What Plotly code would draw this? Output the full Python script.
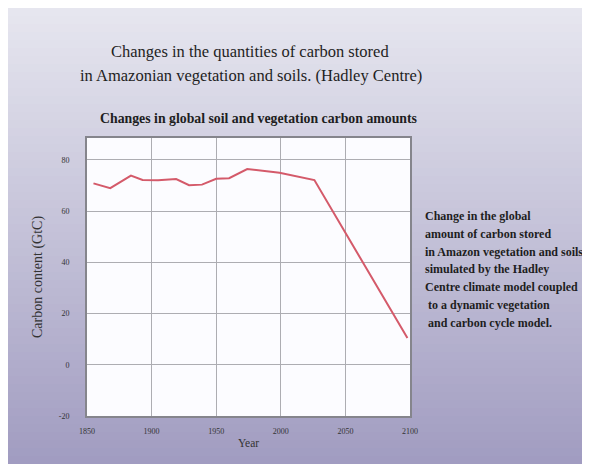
import plotly.graph_objects as go

# Data
years = [1855, 1868, 1884, 1893, 1905, 1919, 1929, 1939, 1950, 1960, 1974, 1999, 2026, 2098]
carbon = [70.8, 68.9, 73.8, 72.1, 72.0, 72.5, 70.1, 70.3, 72.6, 72.8, 76.4, 74.9, 72.1, 10.4]

x_ticks = [1850, 1900, 1950, 2000, 2050, 2100]
y_ticks = [-20, 0, 20, 40, 60, 80]

title_lines = ["Changes in the quantities of carbon stored",
               "in Amazonian vegetation and soils. (Hadley Centre)"]
subtitle = "Changes in global soil and vegetation carbon amounts"
note_lines = ["Change in the global",
              "amount of carbon stored",
              "in Amazon vegetation and soils",
              "simulated by the Hadley",
              "Centre climate model coupled",
              " to a dynamic vegetation",
              " and carbon cycle model."]

W, H = 600, 464
OFF = 8  # page offset of the figure inside the window
L, R, T, B = 87 - OFF, 410 - OFF, 138 - OFF, 416 - OFF
FONT = "Liberation Serif"


def px(x):
    return (x - OFF - L) / (R - L)


def py(y):
    return (B - (y - OFF)) / (B - T)


fig = go.Figure()
fig.add_trace(go.Scatter(x=years, y=carbon, mode="lines",
                         line=dict(color="#d45a6a", width=2),
                         hoverinfo="skip", showlegend=False))

shapes = []
# vertical background gradient
n = 58
top_c = (230, 230, 239)
bot_c = (160, 155, 192)
for i in range(n):
    t = i / (n - 1)
    c = tuple(int(round(top_c[k] + (bot_c[k] - top_c[k]) * t)) for k in range(3))
    y0 = OFF + H * i / n
    y1 = OFF + H * (i + 1) / n + 0.6
    shapes.append(dict(type="rect", xref="paper", yref="paper", layer="below",
                       x0=px(0), x1=px(W + OFF), y0=py(y1), y1=py(y0),
                       fillcolor="rgb(%d,%d,%d)" % c, line=dict(width=0)))
# plot area
shapes.append(dict(type="rect", xref="paper", yref="paper", layer="below",
                   x0=0, x1=1, y0=0, y1=1,
                   fillcolor="#fcfcff", line=dict(width=0)))

annotations = []


def add_text(text, x, y, size, xanchor="center", bold=False):
    annotations.append(dict(text=("<b>%s</b>" % text) if bold else text,
                            xref="paper", yref="paper",
                            x=px(x), y=py(y), xanchor=xanchor, yanchor="middle",
                            showarrow=False,
                            font=dict(family=FONT, size=size, color="#1e1e1e")))


add_text(title_lines[0], 250, 52, 16.5)
add_text(title_lines[1], 251, 75, 16.5)
add_text(subtitle, 259, 118, 13.8, bold=True)
note_y = [216, 234, 252, 269, 287, 305, 323]
for line, yy in zip(note_lines, note_y):
    add_text(line.replace(" ", "&nbsp;", 1) if line.startswith(" ") else line,
             423, yy, 12, xanchor="left", bold=True)

fig.update_layout(
    width=W, height=H,
    margin=dict(l=L, r=W - R, t=T, b=H - B, pad=0),
    paper_bgcolor="rgb(200,198,220)",
    plot_bgcolor="rgba(0,0,0,0)",
    shapes=shapes,
    annotations=annotations,
    showlegend=False,
    xaxis=dict(range=[1850, 2100], tickvals=x_ticks, ticktext=[str(v) for v in x_ticks],
               showgrid=True, gridcolor="#adadb2", gridwidth=1,
               showline=True, linecolor="#85858c", linewidth=2, mirror=True,
               zeroline=False, ticks="", ticklabelstandoff=6,
               tickfont=dict(family=FONT, size=8, color="#333"),
               title=dict(text="Year", standoff=4,
                          font=dict(family=FONT, size=11.5, color="#333"))),
    yaxis=dict(range=[-20, 88.5], tickvals=y_ticks, ticktext=[str(v) for v in y_ticks],
               showgrid=True, gridcolor="#adadb2", gridwidth=1,
               showline=True, linecolor="#85858c", linewidth=2, mirror=True,
               zeroline=False, ticks="", ticklabelstandoff=14,
               tickfont=dict(family=FONT, size=8, color="#333"),
               title=dict(text="Carbon content (GtC)", standoff=13,
                          font=dict(family=FONT, size=14, color="#333"))),
)

fig.write_html("out.html")
